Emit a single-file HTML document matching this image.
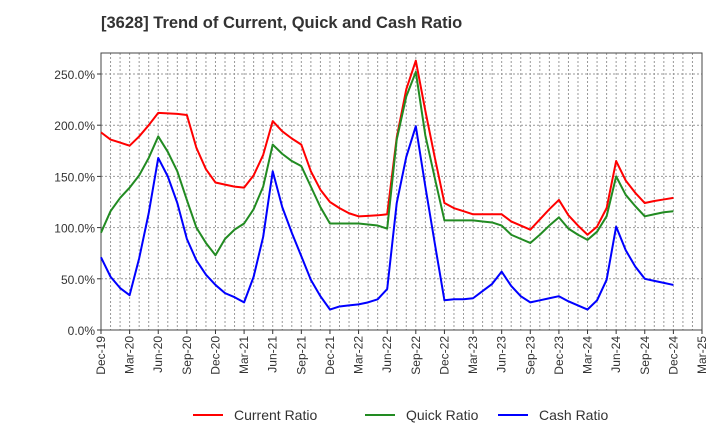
<!DOCTYPE html>
<html><head><meta charset="utf-8"><style>
body{margin:0;background:#fff;font-family:"Liberation Sans",sans-serif;}
</style></head><body>
<svg id="chart" width="720" height="440" xmlns="http://www.w3.org/2000/svg" font-family="Liberation Sans, sans-serif">
<text x="101" y="28" font-size="16.5" font-weight="bold" fill="#333">[3628]  Trend of Current, Quick and Cash Ratio</text>
<g id="grid"></g><g id="axes"></g><g id="series"></g><g id="legend"></g>
</svg>
<script>
const xLabels=["Dec-19","Mar-20","Jun-20","Sep-20","Dec-20","Mar-21","Jun-21","Sep-21","Dec-21","Mar-22","Jun-22","Sep-22","Dec-22","Mar-23","Jun-23","Sep-23","Dec-23","Mar-24","Jun-24","Sep-24","Dec-24","Mar-25"];
const yTicks=[0,50,100,150,200,250];
const currentRatio=[193,186,183,180,189,200,212,211.5,211,210,178,157,144,142,140,139,151,171,204,194,187,181,155,137,125,119,114,111,111.5,112,113,188,235,263,214,168,124,119,116,113,113,113,113,106,102,98,108,118,127,112,102,93,101,119,165,146,134,124,126,127.5,129];
const quickRatio=[95,116,129,139,151,168,189,174,155,127,100,85,73,89,98,104,118,140,181,172,165,160,140,120,104,104,104,104,103,102,99,186,228,252,190,148,107,107,107,107,106,105,102,93,89,85,93,102,110,99,93,88,96,111,150,132,121,111,113,115,116];
const cashRatio=[71,52,41,34,70,114,168,150,124,89,68,54,44,36,32,27,52,91,155,120,95,72,49,33,20,23,24,25,27,30,40,124,169,199,140,84,29,30,30,31,38,45,57,43,33,27,29,31,33,28,24,20,29,49,101,78,62,50,48,46,44];
const L=101,R=702,T=53,B=330,nMonths=63,yMax=270.5;
const xs=m=>L+(R-L)*m/nMonths;
const ys=v=>B-(B-T)*v/yMax;
const NS="http://www.w3.org/2000/svg";
function mk(tag,attrs,parent){const e=document.createElementNS(NS,tag);for(const k in attrs)e.setAttribute(k,attrs[k]);parent.appendChild(e);return e;}
const grid=document.getElementById('grid'),axes=document.getElementById('axes'),series=document.getElementById('series'),legend=document.getElementById('legend');
for(let m=1;m<nMonths;m++){const l=mk('line',{x1:xs(m),x2:xs(m),y1:T,y2:B,stroke:'#999','stroke-width':1,'stroke-dasharray':'2,2'},grid);

}
yTicks.forEach(v=>{if(v>0){const g=mk('line',{x1:L,x2:R,y1:ys(v),y2:ys(v),stroke:'#999','stroke-width':1,'stroke-dasharray':'2,2'},grid);

}
const t=mk('text',{x:L-6,y:ys(v)+5,'text-anchor':'end','font-size':12,fill:'#333'},axes);t.textContent=v.toFixed(1)+'%';


mk('line',{x1:L-4,x2:L,y1:ys(v),y2:ys(v),stroke:'#333'},axes);});
xLabels.forEach((s,i)=>{const x=xs(i*3);mk('line',{x1:x,x2:x,y1:B,y2:B+4,stroke:'#333'},axes);
const t=mk('text',{x:0,y:0,'text-anchor':'end','font-size':12,fill:'#333',transform:`translate(${x+4},${B+6}) rotate(-90)`},axes);t.textContent=s;

});
const frame=mk('rect',{x:L,y:T,width:R-L,height:B-T,fill:'none',stroke:'#444','stroke-width':1},axes);


const defs=[["current-ratio-line",currentRatio,"#ff0000","Current Ratio",193],["quick-ratio-line",quickRatio,"#228b22","Quick Ratio",365],["cash-ratio-line",cashRatio,"#0000ff","Cash Ratio",498]];
defs.forEach(([nm,arr,c,lab,lx])=>{const p=mk('polyline',{points:arr.map((v,i)=>xs(i)+','+ys(v)).join(' '),fill:'none',stroke:c,'stroke-width':2,'stroke-linejoin':'round'},series);


const g=mk('g',{},legend);


mk('line',{x1:lx,x2:lx+30,y1:415,y2:415,stroke:c,'stroke-width':2},g);
const t=mk('text',{x:lx+41,y:420,'font-size':14,fill:'#333'},g);t.textContent=lab;});
</script>
</body></html>
